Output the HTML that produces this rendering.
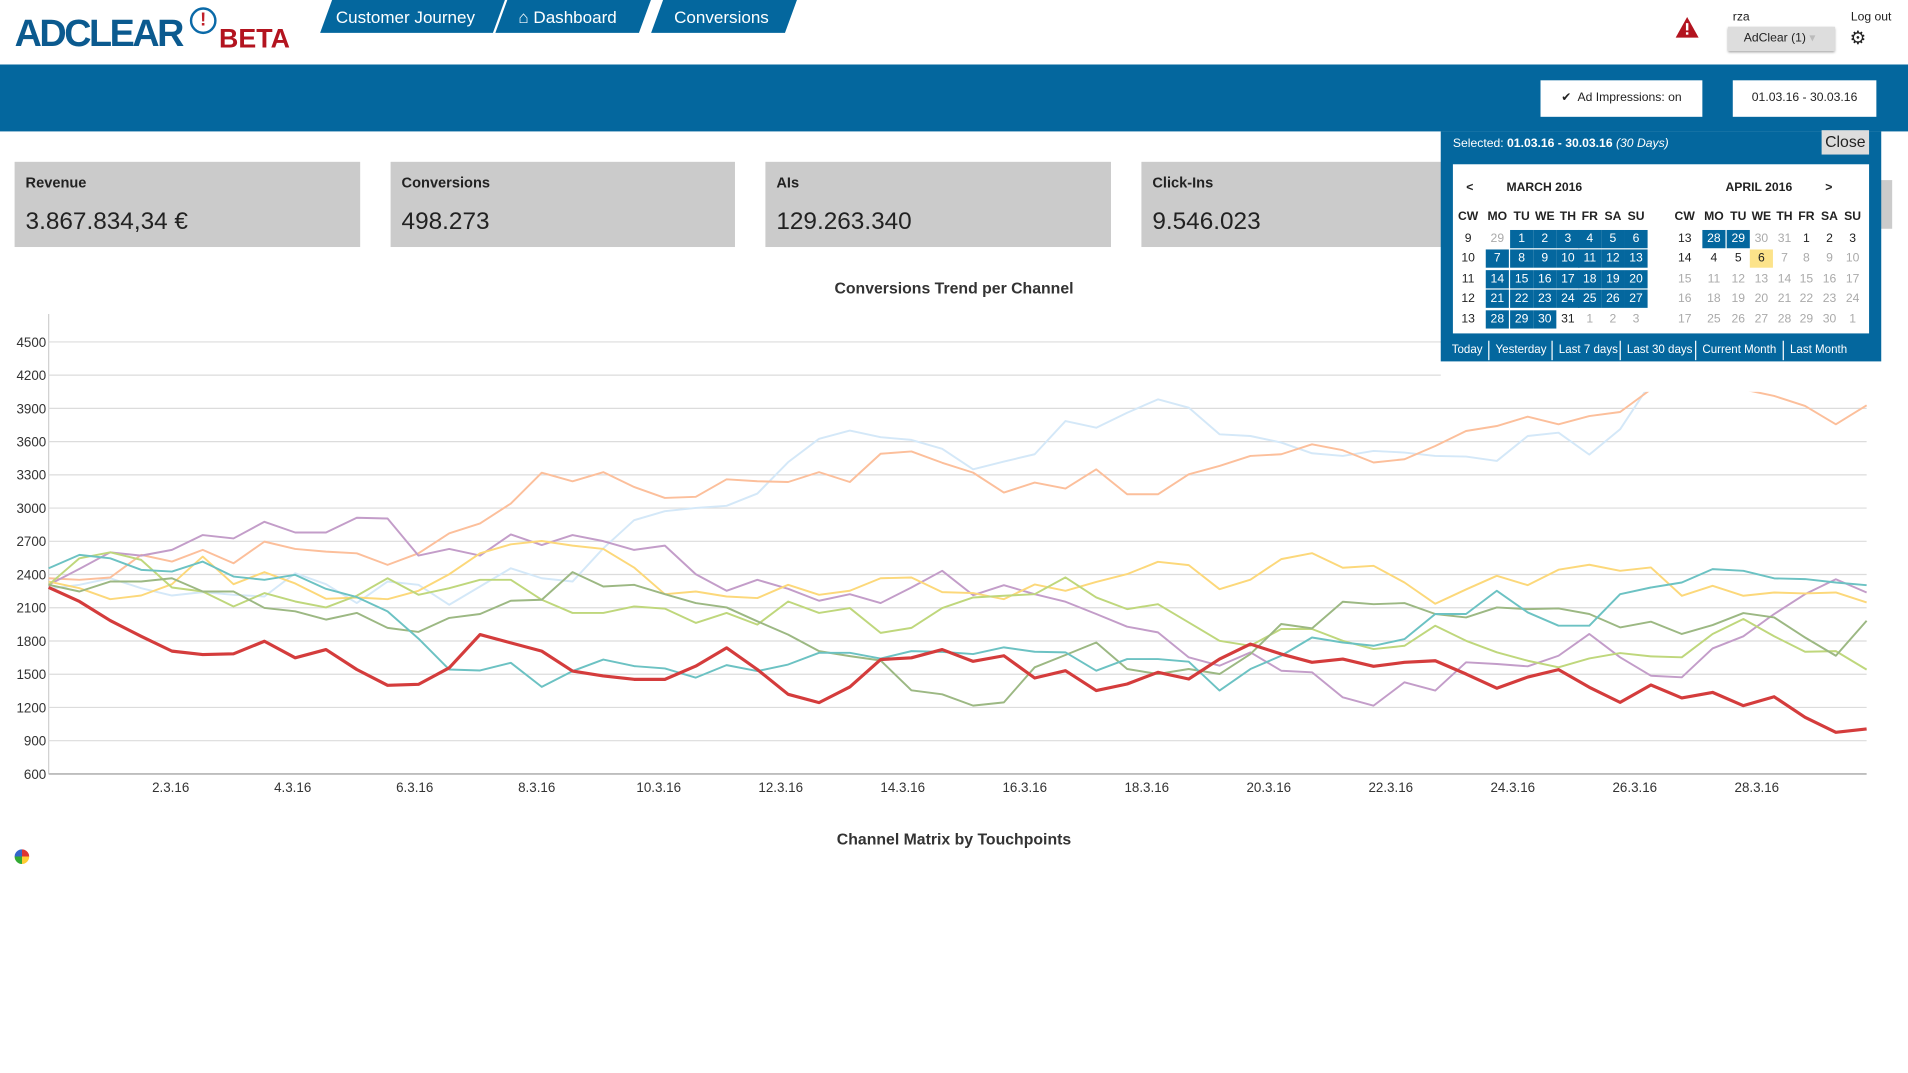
<!DOCTYPE html>
<html><head><meta charset="utf-8">
<style>
html,body{margin:0;padding:0;background:#fff;overflow:hidden;width:1908px;height:1073px}
#root{position:absolute;left:0;top:0;width:1568px;height:882px;transform:scale(1.21684);transform-origin:0 0;font-family:"Liberation Sans",sans-serif;color:#222}
.abs{position:absolute}
.tab{position:absolute;top:0;height:27px;background:#04679e;transform:skewX(-20deg);}
.tabt{position:absolute;top:6px;color:#fff;font-size:14px;white-space:nowrap}
.kpi{position:absolute;top:133px;height:70px;background:#cbcbcb}
.kpi .l{position:absolute;left:9px;top:10px;font-size:12px;font-weight:bold}
.kpi .v{position:absolute;left:9px;top:38px;font-size:20px}
.cal{position:absolute;left:1184px;top:108px;width:362px;height:189px;background:#04679e}
.c{position:absolute;width:19px;height:15px;line-height:15px;text-align:center;font-size:10px;color:#222}
.g{color:#aaa}
.s{background:#04679e;color:#fff}
.h{font-weight:bold;font-size:10px}
.q{position:absolute;top:172px;color:#fff;font-size:9.5px;padding:0 5px;border-left:1px solid #fff;height:16px;line-height:16px}
</style></head><body>
<div id="root">
  <div class="abs" style="left:12px;top:6px;width:230px;height:36px">
    <span class="abs" style="left:0;top:4px;font-size:31px;font-weight:bold;letter-spacing:-2px;color:#0b5a8f;font-family:'Liberation Sans Narrow','Liberation Sans',sans-serif">ADCLEAR</span>
    <span class="abs" style="left:144px;top:0px;width:18px;height:18px;border:2px solid #0b6aa8;border-radius:50%;color:#c0202a;font-weight:bold;font-size:15px;text-align:center;line-height:18px">!</span>
    <span class="abs" style="left:168px;top:13px;font-size:22px;font-weight:bold;color:#b3141f">BETA</span>
  </div>
  <div class="tab" style="left:268px;width:142px"></div>
  <div class="tabt" style="left:276px">Customer Journey</div>
  <div class="tab" style="left:412px;width:118px"></div>
  <div class="tabt" style="left:426px">&#8962; Dashboard</div>
  <div class="tab" style="left:540px;width:110px"></div>
  <div class="tabt" style="left:554px">Conversions</div>

  <svg class="abs" style="left:1377px;top:14px" width="19" height="17"><polygon points="9.5,0 19,17 0,17" fill="#b3141f"/><rect x="8.5" y="5" width="2" height="6" fill="#fff"/><rect x="8.5" y="12.5" width="2" height="2" fill="#fff"/></svg>
  <div class="abs" style="left:1424px;top:9px;font-size:10px">rza</div>
  <div class="abs" style="left:1420px;top:22px;width:88px;height:20px;background:#ddd;box-shadow:0 1px 2px #999;font-size:10px;line-height:20px;padding-left:13px;box-sizing:border-box">AdClear (1) <span style="color:#bbb">&#9662;</span></div>
  <div class="abs" style="left:1521px;top:9px;font-size:10px">Log out</div>
  <div class="abs" style="left:1520px;top:22px;font-size:15px">&#9881;</div>

  <div class="abs" style="left:0;top:53px;width:1568px;height:55px;background:#04679e"></div>
  <div class="abs" style="left:1266px;top:66px;width:133px;height:30px;background:#fff;font-size:10px;line-height:30px;text-align:center">&#10004;&nbsp; Ad Impressions: on</div>
  <div class="abs" style="left:1424px;top:66px;width:118px;height:30px;background:#fff;font-size:10px;line-height:30px;text-align:center">01.03.16 - 30.03.16</div>

  <div class="kpi" style="left:12px;width:284px"><div class="l">Revenue</div><div class="v">3.867.834,34 €</div></div>
  <div class="kpi" style="left:321px;width:283px"><div class="l">Conversions</div><div class="v">498.273</div></div>
  <div class="kpi" style="left:629px;width:284px"><div class="l">AIs</div><div class="v">129.263.340</div></div>
  <div class="kpi" style="left:938px;width:284px"><div class="l">Click-Ins</div><div class="v">9.546.023</div></div>
  <div class="kpi" style="left:1246px;width:309px;top:148px;height:40px"></div>

  <div class="abs" style="left:0;width:1568px;top:229px;text-align:center;font-size:13px;font-weight:bold;color:#333">Conversions Trend per Channel</div>
  <svg id="chart" class="abs" style="left:0;top:0" width="1568" height="882"></svg>
  <div class="abs" style="left:0;width:1568px;top:682px;text-align:center;font-size:13px;font-weight:bold;color:#333">Channel Matrix by Touchpoints</div>
  <div class="abs" style="left:12px;top:698px;width:12px;height:12px;border-radius:50%;background:conic-gradient(#d33 0 25%,#fc3 0 50%,#3a3 0 75%,#36c 0)"></div>

  <div class="abs" style="left:1184px;top:297px;width:362px;height:25px;background:#fff"></div>
  <div class="cal">
    <div class="abs" style="left:10px;top:5px;color:#fff;font-size:10px">Selected: <b>01.03.16 - 30.03.16</b> <i>(30 Days)</i></div>
    <div class="abs" style="left:313px;top:-1px;width:39px;height:20px;background:#ddd;font-size:13px;line-height:20px;text-align:center;color:#222">Close</div>
    <div class="abs" id="calp" style="left:10px;top:27px;width:342px;height:139px;background:#fff"></div>
    <div class="q" style="left:4px;border-left:none">Today</div>
    <div class="q" style="left:39px">Yesterday</div>
    <div class="q" style="left:91px">Last 7 days</div>
    <div class="q" style="left:147px">Last 30 days</div>
    <div class="q" style="left:209px">Current Month</div>
    <div class="q" style="left:281px">Last Month</div>
  </div>
</div>
<script>
const yTicks = [600,900,1200,1500,1800,2100,2400,2700,3000,3300,3600,3900,4200,4500];
const xTickLabels = ["2.3.16","4.3.16","6.3.16","8.3.16","10.3.16","12.3.16","14.3.16","16.3.16","18.3.16","20.3.16","22.3.16","24.3.16","26.3.16","28.3.16"];
const xTickDays = [2,4,6,8,10,12,14,16,18,20,22,24,26,28];
const seriesNames = ["Display","Search","Affiliate","Social","Newsletter","Retargeting","Video","Direct"];
const sDisplay = [2367,2352,2373,2577,2517,2622,2502,2697,2631,2607,2592,2487,2592,2772,2861,3041,3319,3242,3325,3191,3092,3101,3260,3242,3236,3325,3236,3490,3511,3409,3320,3140,3230,3176,3350,3125,3125,3305,3380,3471,3486,3576,3522,3411,3441,3561,3696,3741,3825,3756,3831,3867,4072,4102,4102,4072,4012,3922,3756,3928];
const sSearch = [2271,2307,2367,2277,2211,2241,2217,2202,2412,2313,2142,2337,2307,2127,2292,2457,2367,2337,2637,2891,2972,3002,3020,3131,3415,3625,3700,3640,3616,3535,3350,3420,3486,3786,3726,3861,3982,3907,3666,3651,3591,3495,3471,3516,3501,3471,3465,3426,3651,3681,3483,3711,4132,4190,4250,4220,4280,4235,4250,4220];
const sSocial = [2307,2451,2601,2571,2622,2756,2726,2876,2780,2780,2912,2906,2571,2631,2571,2762,2667,2756,2702,2622,2661,2403,2253,2352,2271,2163,2223,2142,2283,2433,2214,2304,2223,2154,2043,1929,1878,1652,1577,1697,1532,1517,1291,1216,1427,1352,1607,1592,1571,1667,1863,1652,1487,1472,1733,1842,2043,2223,2358,2238];
const sNewsletter = [2337,2277,2178,2211,2313,2562,2313,2421,2319,2181,2193,2178,2253,2403,2592,2673,2703,2661,2631,2463,2223,2247,2202,2187,2307,2217,2253,2367,2373,2241,2232,2178,2310,2253,2334,2404,2515,2485,2268,2353,2539,2593,2461,2479,2328,2136,2265,2389,2304,2443,2488,2434,2464,2208,2298,2208,2238,2229,2238,2148];
const sRetargeting = [2457,2577,2547,2442,2427,2517,2382,2352,2397,2271,2196,2068,1822,1543,1534,1603,1385,1528,1633,1573,1552,1469,1582,1528,1588,1693,1693,1642,1708,1702,1682,1742,1703,1697,1532,1637,1637,1613,1352,1547,1667,1832,1787,1757,1817,2043,2043,2253,2058,1938,1938,2223,2283,2328,2449,2434,2365,2359,2328,2304];
const sVideo = [2307,2547,2601,2532,2283,2247,2112,2232,2157,2103,2208,2367,2217,2277,2352,2352,2172,2053,2053,2112,2092,1963,2053,1948,2157,2053,2097,1873,1918,2097,2193,2208,2223,2374,2193,2088,2133,1968,1802,1757,1908,1908,1802,1727,1757,1938,1802,1697,1622,1562,1643,1691,1661,1652,1863,1998,1842,1703,1709,1541];
const sDirect = [2307,2247,2337,2337,2367,2247,2247,2098,2068,1993,2053,1918,1882,2008,2044,2163,2172,2421,2292,2307,2223,2142,2103,1978,1858,1708,1663,1624,1355,1319,1216,1246,1562,1673,1787,1547,1502,1547,1502,1682,1953,1914,2154,2133,2142,2043,2013,2103,2088,2094,2043,1923,1974,1863,1944,2052,2013,1832,1667,1983];
const sAffiliate = [2283,2157,1984,1843,1708,1678,1684,1798,1648,1723,1543,1400,1409,1558,1858,1783,1708,1528,1484,1454,1454,1573,1738,1543,1319,1244,1385,1633,1648,1723,1616,1667,1466,1532,1352,1412,1517,1457,1637,1772,1682,1607,1637,1571,1607,1622,1502,1373,1475,1541,1382,1246,1403,1286,1336,1216,1297,1111,976,1006];

const NS='http://www.w3.org/2000/svg';
const svg=document.getElementById('chart');
const X0=40,X1=1534,Y0=636,Y1=281,VMIN=600,VMAX=4500,DAYS=29.8;
function yScale(v){return Y0-(v-VMIN)*(Y0-Y1)/(VMAX-VMIN);}
function xDay(d){return X0+d*(X1-X0)/DAYS;}
function xIdx(i,n){return X0+i*(X1-X0)/(n-1);}
function mk(tag,attrs){const e=document.createElementNS(NS,tag);for(const k in attrs)e.setAttribute(k,attrs[k]);svg.appendChild(e);return e;}
const axisL=mk('line',{x1:X0,x2:X0,y1:258,y2:Y0,stroke:'#cfcfcf','stroke-width':1});


yTicks.forEach(v=>{
  const y=yScale(v);
  const g=mk('line',{x1:X0,x2:X1,y1:y,y2:y,stroke:v===VMIN?'#bdbdbd':'#dcdcdc','stroke-width':v===VMIN?1.5:1});
  
  
  const t=mk('text',{x:38,y:y+4,'text-anchor':'end','font-size':11,fill:'#333','font-family':'Liberation Sans, sans-serif'});
  t.textContent=v;
  
  
});
xTickDays.forEach((d,i)=>{
  const t=mk('text',{x:xDay(d),y:651,'text-anchor':'middle','font-size':11,fill:'#333','font-family':'Liberation Sans, sans-serif'});
  t.textContent=xTickLabels[i];
  
  
});
const seriesList=[
 [sSearch,'#d4e8f8',1.6,'series-search'],
 [sDisplay,'#fcbf9b',1.6,'series-display'],
 [sSocial,'#c39dc9',1.6,'series-social'],
 [sNewsletter,'#fcd87a',1.6,'series-newsletter'],
 [sVideo,'#bfd77c',1.6,'series-video'],
 [sDirect,'#9cb883',1.6,'series-direct'],
 [sRetargeting,'#6cc2c3',1.6,'series-retargeting'],
 [sAffiliate,'#d43c3c',2.6,'series-affiliate']
];
seriesList.forEach(s=>{
  const arr=s[0];
  const pts=arr.map((v,i)=>xIdx(i,arr.length).toFixed(1)+','+yScale(v).toFixed(1)).join(' ');
  const p=mk('polyline',{points:pts,fill:'none',stroke:s[1],'stroke-width':s[2],'stroke-linejoin':'round'});
  
  
});

// calendar
const calp=document.getElementById('calp');
function cell(x,y,txt,cls,name){
  const d=document.createElement('div');
  d.className='c '+(cls||'');
  d.style.left=x+'px';d.style.top=y+'px';
  d.textContent=txt;
  
  
  calp.appendChild(d);
}
const heads=['CW','MO','TU','WE','TH','FR','SA','SU'];
const marchX=[3,27,47,66,85,103,122,141];
const aprilX=[181,205,225,244,263,281,300,319];
const rowY=[54,70,86.5,103,119.5];
const marchRows=[[9,'29',1,2,3,4,5,6],[10,7,8,9,10,11,12,13],[11,14,15,16,17,18,19,20],[12,21,22,23,24,25,26,27],[13,28,29,30,31,'1','2','3']];
const aprilRows=[[13,28,29,'30','31',1,2,3],[14,4,5,6,'7','8','9','10'],['15','11','12','13','14','15','16','17'],['16','18','19','20','21','22','23','24'],['17','25','26','27','28','29','30','1']];
function t(x,y,txt,name,extra){const d=document.createElement('div');d.className='abs h';d.style.left=x+'px';d.style.top=y+'px';d.textContent=txt;if(extra)d.style.cssText+=extra;calp.appendChild(d);}
t(11,14,'<','prev-month-nav');
t(44,14,'MARCH 2016','march-title');
t(224,14,'APRIL 2016','april-title');
t(306,14,'>','next-month-nav');
heads.forEach((h,i)=>{cell(marchX[i],36,h,'h','weekday-header');cell(aprilX[i],36,h,'h','weekday-header');});
marchRows.forEach((r,ri)=>r.forEach((v,ci)=>{
  let cls='';
  if(ci>0){ if(typeof v==='string')cls='g'; else if(!(ri===4&&v===31)&&!(ri===0&&ci===1)) cls='s'; }
  cell(marchX[ci],rowY[ri],v,cls,ci===0?'week-number':'day-cell');
}));
aprilRows.forEach((r,ri)=>r.forEach((v,ci)=>{
  let cls=typeof v==='string'?'g':'';
  if(ri===0&&(ci===1||ci===2))cls='s';
  if(ri===1&&ci===3)cls='';
  cell(aprilX[ci],rowY[ri],v,cls,ci===0?'week-number':'day-cell');
  if(ri===1&&ci===3)calp.lastChild.style.background='#fce38a';
}));
</script>
</body></html>
